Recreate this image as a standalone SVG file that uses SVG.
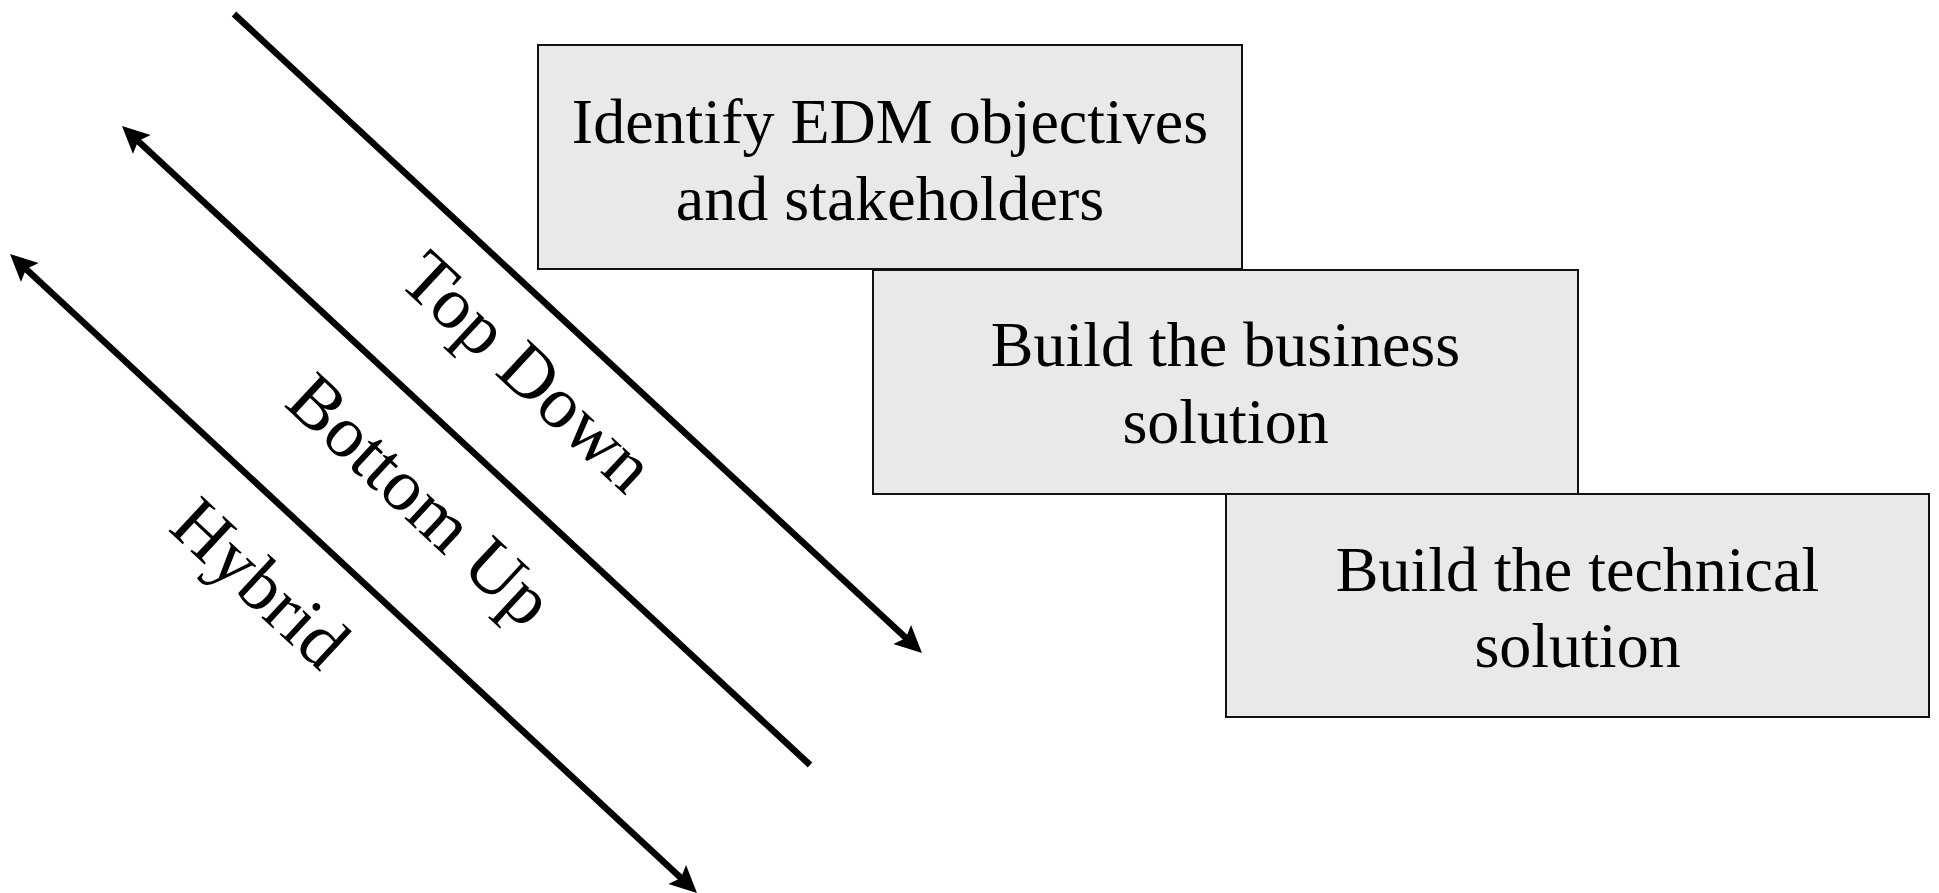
<svg xmlns="http://www.w3.org/2000/svg" width="1939" height="893" viewBox="0 0 1939 893">
  <defs>
    <style>
      .box { fill: #e9e9e9; stroke: #111; stroke-width: 2; }
      .boxtext { font-family: "Liberation Serif", "Times New Roman", serif; font-size: 64px; fill: #000; text-anchor: middle; }
      .label { font-family: "Liberation Serif", "Times New Roman", serif; font-size: 74px; fill: #000; }
      .arrow { stroke: #000; stroke-width: 6.5; fill: none; }
    </style>
    <marker id="head" markerUnits="userSpaceOnUse" viewBox="0 -14 30 28" markerWidth="30" markerHeight="28" refX="9" refY="0" orient="auto-start-reverse" overflow="visible">
      <path d="M0,-13 L27,0 L0,13 L5,0 Z" fill="#000"/>
    </marker>
  </defs>

  <rect width="1939" height="893" fill="#fff"/>

  <g id="connectors">
    <line id="top-down" class="arrow" x1="234" y1="14" x2="908.8" y2="640.7" marker-end="url(#head)"/>
    <line id="bottom-up" class="arrow" x1="135.2" y1="138.3" x2="810" y2="765" marker-start="url(#head)"/>
    <line id="hybrid" class="arrow" x1="23.2" y1="266.3" x2="683.8" y2="880.7" marker-start="url(#head)" marker-end="url(#head)"/>
  </g>

  <g id="label-top-down">
    <text class="label" transform="rotate(42.93)" x="483" y="-63">Top Down</text>
  </g>
  <g id="label-bottom-up">
    <text class="label" transform="rotate(42.93)" x="483" y="104">Bottom Up</text>
  </g>
  <g id="label-hybrid">
    <text class="label" transform="rotate(42.93)" x="483" y="274">Hybrid</text>
  </g>

  <g id="node-objectives">
    <rect class="box" x="538" y="45" width="704" height="224"/>
    <text class="boxtext" x="890" y="143">Identify EDM objectives</text>
    <text class="boxtext" x="890" y="220">and stakeholders</text>
  </g>
  <g id="node-business">
    <rect class="box" x="873" y="270" width="705" height="224"/>
    <text class="boxtext" x="1225.5" y="366">Build the business</text>
    <text class="boxtext" x="1225.5" y="443">solution</text>
  </g>
  <g id="node-technical">
    <rect class="box" x="1226" y="494" width="703" height="223"/>
    <text class="boxtext" x="1577.5" y="591">Build the technical</text>
    <text class="boxtext" x="1577.5" y="667">solution</text>
  </g>
</svg>
